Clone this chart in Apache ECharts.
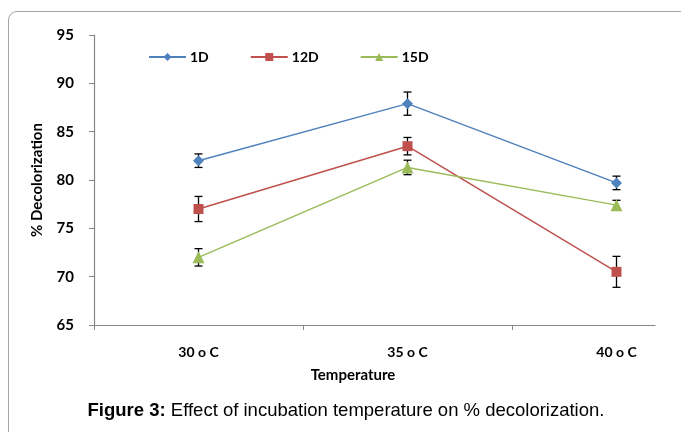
<!DOCTYPE html>
<html><head><meta charset="utf-8">
<script src="https://cdn.jsdelivr.net/npm/echarts@6/dist/echarts.min.js"></script>
<style>
html,body{margin:0;padding:0;background:#fff;overflow:hidden;width:681px;height:432px}
#frame{position:absolute;left:8px;top:11px;width:720px;height:460px;border:1px solid #a6a6a6;border-radius:9px;box-sizing:border-box}
#chart{position:absolute;left:0;top:0;width:721px;height:432px}
</style></head>
<body>
<div id="frame"></div>
<div id="chart"></div>
<script>
const categories = ['30 o C', '35 o C', '40 o C'];
const seriesNames = ['1D', '12D', '15D'];
const values1D = [82.0, 87.9, 79.7];
const values12D = [77.0, 83.5, 70.5];
const values15D = [72.0, 81.3, 77.4];
const err1D = [0.7, 1.2, 0.7];
const err12D = [1.3, 0.9, 1.6];
const err15D = [0.9, 0.75, 0.5];
const yTicks = {min: 65, max: 95, interval: 5};

const colors = ['#4F81BD', '#C0504D', '#9BBB59'];
const symbols = ['diamond', 'rect', 'triangle'];
const allValues = [values1D, values12D, values15D];
const allErr = [err1D, err12D, err15D];
const font = 'Lato, "Open Sans", sans-serif';
const capFont = '"Liberation Sans", Arial, sans-serif';

const chart = echarts.init(document.getElementById('chart'), null, {renderer: 'canvas'});

const lineSeries = seriesNames.map((n, i) => ({
  name: n, type: 'line', data: allValues[i], xAxisIndex: 0, yAxisIndex: 0,
  symbol: symbols[i], symbolSize: symbols[i] === 'rect' ? 10 : (symbols[i] === 'triangle' ? 12 : 11),
  itemStyle: {color: colors[i]}, lineStyle: {color: colors[i], width: 1.5},
  z: 3, animation: false
}));

const errSeries = seriesNames.map((n, i) => ({
  type: 'custom', xAxisIndex: 0, yAxisIndex: 0, z: 2, animation: false, silent: true,
  data: allValues[i].map((v, k) => [k, v - allErr[i][k], v + allErr[i][k]]),
  renderItem: function (params, api) {
    const lo = api.coord([api.value(0), api.value(1)]);
    const hi = api.coord([api.value(0), api.value(2)]);
    const w = 4;
    const st = {stroke: '#000', lineWidth: 1.3};
    return {type: 'group', children: [
      {type: 'line', shape: {x1: lo[0], y1: lo[1], x2: hi[0], y2: hi[1]}, style: st},
      {type: 'line', shape: {x1: lo[0] - w, y1: lo[1], x2: lo[0] + w, y2: lo[1]}, style: st},
      {type: 'line', shape: {x1: hi[0] - w, y1: hi[1], x2: hi[0] + w, y2: hi[1]}, style: st}
    ]};
  }
}));

chart.setOption({
  animation: false,
  legend: {
    data: seriesNames, top: 50, left: 148, padding: 0, itemWidth: 37, itemHeight: 10, itemGap: 41,
    textStyle: {fontFamily: font, fontWeight: 'bold', fontSize: 14, color: '#000', padding: [0, 0, 0, -1]}
  },
  title: [
    {text: 'Temperature', left: 353, top: 368, textAlign: 'center', padding: 0,
     textStyle: {fontFamily: font, fontWeight: 'bold', fontSize: 15, color: '#000'}},
    {text: '{b|Figure 3:} Effect of incubation temperature on % decolorization.', left: 346, top: 401, textAlign: 'center', padding: 0,
     textStyle: {fontFamily: capFont, fontSize: 18.5, fontWeight: 'normal', color: '#000',
       rich: {b: {fontFamily: capFont, fontSize: 18.5, fontWeight: 'bold', color: '#000'}}}}
  ],
  grid: [
    {left: 94, right: 0, top: 35, bottom: 107},
    {left: 94, right: 66, top: 35, bottom: 107}
  ],
  xAxis: [
    {type: 'category', data: categories, gridIndex: 0, boundaryGap: true,
     axisLine: {show: false},
     axisTick: {show: true, length: 5, lineStyle: {color: '#868686'}},
     axisLabel: {margin: 20, fontFamily: font, fontWeight: 'bold', fontSize: 14, color: '#000'},
     splitLine: {show: false}},
    {type: 'value', gridIndex: 1, min: 0, max: 1,
     axisLine: {show: true, lineStyle: {color: '#868686', width: 1.2}},
     axisTick: {show: false}, axisLabel: {show: false}, splitLine: {show: false}}
  ],
  yAxis: [
    {type: 'value', gridIndex: 0, min: yTicks.min, max: yTicks.max, interval: yTicks.interval,
     name: '% Decolorization', nameLocation: 'middle', nameGap: 49, nameRotate: 90,
     nameTextStyle: {fontFamily: font, fontWeight: 'bold', fontSize: 15, color: '#000'},
     axisLine: {show: true, lineStyle: {color: '#868686', width: 1.2}},
     axisTick: {show: true, length: 5, lineStyle: {color: '#868686'}},
     axisLabel: {margin: 20, fontFamily: font, fontWeight: 'bold', fontSize: 15, color: '#000'},
     splitLine: {show: false}},
    {type: 'value', gridIndex: 1, show: false, min: 0, max: 1}
  ],
  series: lineSeries.concat(errSeries)
});
</script>
</body></html>
